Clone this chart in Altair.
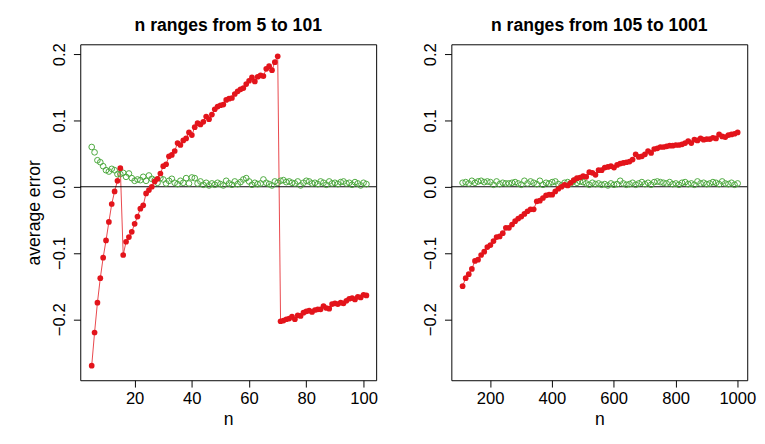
import pandas as pd
import altair as alt

# left panel: n = 5..101
n_left = list(range(5, 102))
red_left = [
    -0.270, -0.220, -0.175, -0.138, -0.107, -0.081, -0.053, -0.026, -0.007, 0.009,
    0.028, -0.103, -0.083, -0.076, -0.068, -0.056, -0.045, -0.033, -0.028, -0.010,
    -0.005, 0.000, 0.008, 0.012, 0.020, 0.031, 0.034, 0.046, 0.048, 0.054,
    0.066, 0.063, 0.070, 0.073, 0.082, 0.078, 0.090, 0.096, 0.094, 0.098,
    0.106, 0.102, 0.109, 0.117, 0.121, 0.123, 0.124, 0.131, 0.133, 0.134,
    0.140, 0.144, 0.147, 0.149, 0.155, 0.160, 0.165, 0.159, 0.166, 0.168,
    0.167, 0.178, 0.182, 0.176, 0.188, 0.197,
    -0.203, -0.202, -0.200, -0.199, -0.196, -0.200, -0.194, -0.195, -0.190, -0.188,
    -0.187, -0.189, -0.186, -0.185, -0.185, -0.180, -0.183, -0.184, -0.177, -0.176,
    -0.177, -0.175, -0.176, -0.172, -0.169, -0.168, -0.170, -0.166, -0.167, -0.163,
    -0.164,
]
green_left = [
    0.060, 0.052, 0.040, 0.037, 0.031, 0.025, 0.023, 0.027, 0.025, 0.019,
    0.019, 0.021, 0.015, 0.020, 0.013, 0.009, 0.011, 0.010, 0.015, 0.009,
    0.017, 0.012, 0.010, 0.006, 0.013, 0.011, 0.005, 0.009, 0.012, 0.006,
    0.004, 0.009, 0.006, 0.013, 0.005, 0.014, 0.013, 0.005, 0.008, 0.003,
    0.006, 0.002, 0.005, 0.003, 0.006, 0.004, 0.002, 0.009, 0.005, 0.003,
    0.008, 0.004, 0.007, 0.011, 0.013, 0.008, 0.003, 0.006, 0.004, 0.005,
    0.011, 0.006, 0.004, 0.002, 0.008, 0.006, 0.009, 0.010, 0.007, 0.008,
    0.006, 0.005, 0.008, 0.002, 0.006, 0.009, 0.008, 0.005, 0.006, 0.004,
    0.008, 0.006, 0.003, 0.008, 0.005, 0.006, 0.004, 0.007, 0.008, 0.005,
    0.006, 0.003, 0.007, 0.005, 0.002, 0.006, 0.004,
]

# right panel: n = 111..1001 step 10
n_right = list(range(111, 1002, 10))
red_right = [
    -0.150, -0.138, -0.132, -0.124, -0.112, -0.110, -0.103, -0.098, -0.091, -0.088,
    -0.082, -0.076, -0.075, -0.070, -0.062, -0.062, -0.057, -0.052, -0.048, -0.045,
    -0.041, -0.037, -0.034, -0.034, -0.022, -0.021, -0.017, -0.013, -0.012, -0.012,
    -0.007, -0.003, 0.000, 0.003, 0.002, 0.006, 0.010, 0.013, 0.014, 0.016,
    0.015, 0.022, 0.021, 0.018, 0.025, 0.025, 0.029, 0.030, 0.031, 0.029,
    0.033, 0.035, 0.036, 0.037, 0.038, 0.041, 0.049, 0.045, 0.046, 0.049,
    0.054, 0.051, 0.057, 0.058, 0.060, 0.060, 0.061, 0.062, 0.062, 0.063,
    0.063, 0.064, 0.066, 0.069, 0.066, 0.071, 0.070, 0.073, 0.071, 0.072,
    0.072, 0.074, 0.073, 0.079, 0.076, 0.075, 0.078, 0.079, 0.080, 0.082,
]
green_right = [
    0.006, 0.007, 0.005, 0.009, 0.006, 0.008, 0.009, 0.007, 0.008, 0.007,
    0.003, 0.008, 0.004, 0.006, 0.005, 0.005, 0.006, 0.007, 0.005, 0.003,
    0.009, 0.005, 0.008, 0.006, 0.004, 0.009, 0.003, 0.006, 0.005, 0.007,
    0.008, 0.004, 0.002, 0.006, 0.007, 0.005, 0.009, 0.006, 0.008, 0.007,
    0.005, 0.003, 0.006, 0.004, 0.005, 0.003, 0.004, 0.002, 0.005, 0.003,
    0.004, 0.009, 0.005, 0.003, 0.004, 0.006, 0.003, 0.005, 0.007, 0.004,
    0.006, 0.003, 0.007, 0.008, 0.007, 0.006, 0.005, 0.007, 0.004, 0.005,
    0.003, 0.006, 0.007, 0.004, 0.005, 0.003, 0.008, 0.005, 0.006, 0.004,
    0.005, 0.007, 0.006, 0.004, 0.008, 0.005, 0.004, 0.006, 0.003, 0.005,
]

RED = "#e3141b"
GREEN = "#4aa83c"
FONT = "Liberation Sans"


def panel(n, red, green, title, xdom, xticks, ytitle):
    df = pd.DataFrame({"n": n, "red": red, "green": green})
    x = alt.X("n:Q", scale=alt.Scale(domain=xdom, nice=False, zero=False),
              axis=alt.Axis(values=xticks, title="n", format="d"))
    y_axis = alt.Axis(values=[-0.2, -0.1, 0.0, 0.1, 0.2], title=ytitle, format=".1f",
                      labelAngle=270, labelAlign="center", labelBaseline="bottom",
                      labelPadding=5, titlePadding=8)
    yscale = alt.Scale(domain=[-0.292, 0.215], nice=False)
    base = alt.Chart(df)
    line = base.mark_line(color=RED, strokeWidth=0.8).encode(
        x=x, y=alt.Y("red:Q", scale=yscale, axis=y_axis))
    pts = base.mark_circle(color=RED, size=34, opacity=1).encode(
        x=x, y=alt.Y("red:Q", scale=yscale))
    gpts = base.mark_point(color=GREEN, size=34, strokeWidth=1, opacity=1).encode(
        x=x, y=alt.Y("green:Q", scale=yscale))
    zero = alt.Chart(pd.DataFrame({"z": [0.0]})).mark_rule(color="black", strokeWidth=1).encode(
        y=alt.Y("z:Q", scale=yscale))
    return alt.layer(line, zero, gpts, pts).properties(
        width=303, height=344,
        title=alt.TitleParams(title, fontSize=18, fontWeight="bold", font=FONT, offset=8))


left = panel(n_left, red_left, green_left, "n ranges from 5 to 101",
             [1.0, 104.4], [20, 40, 60, 80, 100], "average error")
right = panel(n_right, red_right, green_right, "n ranges from 105 to 1001",
              [74.6, 1032], [200, 400, 600, 800, 1000], None)

chart = alt.hconcat(left, right, spacing=44).properties(
    padding={"left": 17, "top": 3, "right": 0, "bottom": 5}
).configure_view(
    stroke="black", strokeWidth=1
).configure_axis(
    grid=False, domain=False, tickColor="black", tickSize=7, labelColor="black",
    labelFont=FONT, labelFontSize=17, titleFont=FONT, titleFontSize=18,
    titleFontWeight="normal", titleColor="black", labelPadding=4,
)
chart.save("out.html", embed_options={"renderer": "svg", "actions": False})
